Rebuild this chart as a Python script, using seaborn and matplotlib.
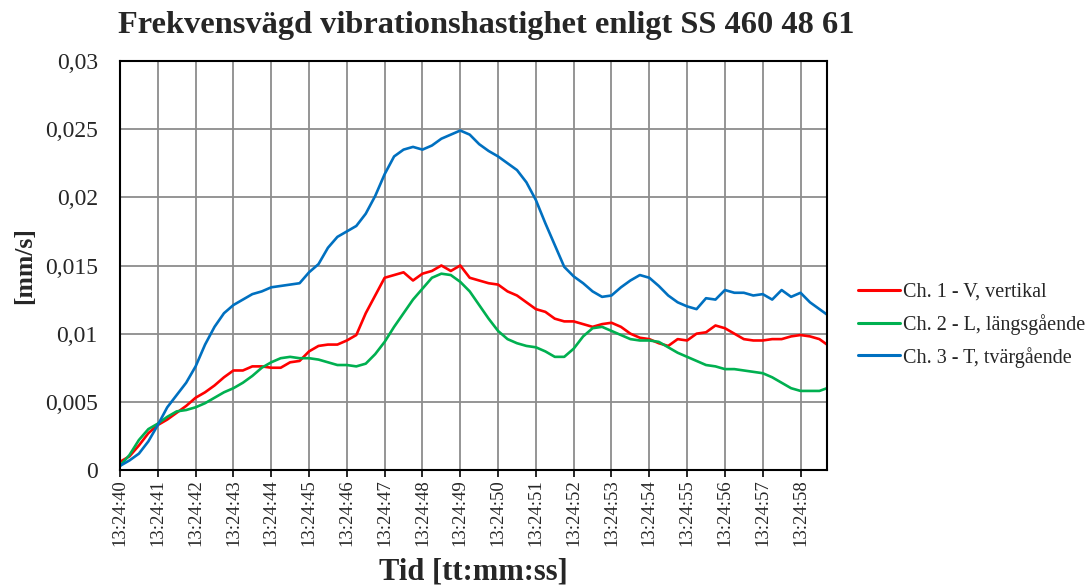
import matplotlib
matplotlib.use("Agg")
import matplotlib.pyplot as plt
import pandas as pd
import seaborn as sns

# time offset in seconds from 13:24:40
seconds = [0, 0.25, 0.5, 0.75, 1, 1.25, 1.5, 1.75, 2, 2.25, 2.5, 2.75,
           3, 3.25, 3.5, 3.75, 4, 4.25, 4.5, 4.75, 5, 5.25, 5.5, 5.75,
           6, 6.25, 6.5, 6.75, 7, 7.25, 7.5, 7.75, 8, 8.25, 8.5, 8.75,
           9, 9.25, 9.5, 9.75, 10, 10.25, 10.5, 10.75, 11, 11.25, 11.5, 11.75,
           12, 12.25, 12.5, 12.75, 13, 13.25, 13.5, 13.75, 14, 14.25, 14.5, 14.75,
           15, 15.25, 15.5, 15.75, 16, 16.25, 16.5, 16.75, 17, 17.25, 17.5, 17.75,
           18, 18.25, 18.5, 18.7]

ch1_vertikal = [0.0006, 0.0010, 0.0018, 0.0027, 0.0033, 0.0037, 0.0042, 0.0047, 0.0053, 0.0057, 0.0062, 0.0068,
                0.0073, 0.0073, 0.0076, 0.0076, 0.0075, 0.0075, 0.0079, 0.0080, 0.0087, 0.0091, 0.0092, 0.0092,
                0.0095, 0.0099, 0.0115, 0.0128, 0.0141, 0.0143, 0.0145, 0.0139, 0.0144, 0.0146, 0.0150, 0.0146,
                0.0150, 0.0141, 0.0139, 0.0137, 0.0136, 0.0131, 0.0128, 0.0123, 0.0118, 0.0116, 0.0111, 0.0109,
                0.0109, 0.0107, 0.0105, 0.0107, 0.0108, 0.0105, 0.0100, 0.0097, 0.0096, 0.0093, 0.0091, 0.0096,
                0.0095, 0.0100, 0.0101, 0.0106, 0.0104, 0.0100, 0.0096, 0.0095, 0.0095, 0.0096, 0.0096, 0.0098,
                0.0099, 0.0098, 0.0096, 0.0092]

ch2_langsgaende = [0.0003, 0.0011, 0.0022, 0.0030, 0.0034, 0.0039, 0.0043, 0.0044, 0.0046, 0.0049, 0.0053, 0.0057,
                   0.0060, 0.0064, 0.0069, 0.0075, 0.0079, 0.0082, 0.0083, 0.0082, 0.0082, 0.0081, 0.0079, 0.0077,
                   0.0077, 0.0076, 0.0078, 0.0085, 0.0094, 0.0105, 0.0115, 0.0125, 0.0133, 0.0141, 0.0144, 0.0143,
                   0.0138, 0.0131, 0.0121, 0.0111, 0.0102, 0.0096, 0.0093, 0.0091, 0.0090, 0.0087, 0.0083, 0.0083,
                   0.0089, 0.0098, 0.0104, 0.0105, 0.0102, 0.0099, 0.0096, 0.0095, 0.0095, 0.0094, 0.0090, 0.0086,
                   0.0083, 0.0080, 0.0077, 0.0076, 0.0074, 0.0074, 0.0073, 0.0072, 0.0071, 0.0068, 0.0064, 0.0060,
                   0.0058, 0.0058, 0.0058, 0.0060]

ch3_tvargaende = [0.0003, 0.0007, 0.0012, 0.0021, 0.0033, 0.0046, 0.0055, 0.0064, 0.0076, 0.0092, 0.0105, 0.0115,
                  0.0121, 0.0125, 0.0129, 0.0131, 0.0134, 0.0135, 0.0136, 0.0137, 0.0145, 0.0151, 0.0163, 0.0171,
                  0.0175, 0.0179, 0.0188, 0.0201, 0.0217, 0.0230, 0.0235, 0.0237, 0.0235, 0.0238, 0.0243, 0.0246,
                  0.0249, 0.0246, 0.0239, 0.0234, 0.0230, 0.0225, 0.0220, 0.0211, 0.0198, 0.0181, 0.0165, 0.0149,
                  0.0142, 0.0137, 0.0131, 0.0127, 0.0128, 0.0134, 0.0139, 0.0143, 0.0141, 0.0135, 0.0128, 0.0123,
                  0.0120, 0.0118, 0.0126, 0.0125, 0.0132, 0.0130, 0.0130, 0.0128, 0.0129, 0.0125, 0.0132, 0.0127,
                  0.0130, 0.0123, 0.0118, 0.0114]

series_names = ["Ch. 1 - V, vertikal", "Ch. 2 - L, längsgående", "Ch. 3 - T, tvärgående"]
series_colors = ["#FF0000", "#00B050", "#0070C0"]

x_tick_pos = list(range(19))
x_tick_labels = ["13:24:40", "13:24:41", "13:24:42", "13:24:43", "13:24:44", "13:24:45", "13:24:46",
                 "13:24:47", "13:24:48", "13:24:49", "13:24:50", "13:24:51", "13:24:52", "13:24:53",
                 "13:24:54", "13:24:55", "13:24:56", "13:24:57", "13:24:58"]
y_tick_pos = [0, 0.005, 0.01, 0.015, 0.02, 0.025, 0.03]
y_tick_labels = ["0", "0,005", "0,01", "0,015", "0,02", "0,025", "0,03"]

df = pd.concat([
    pd.DataFrame({"t": seconds, "v": vals, "kanal": name})
    for name, vals in zip(series_names, [ch1_vertikal, ch2_langsgaende, ch3_tvargaende])
])

sns.set_theme(style="white")
plt.rcParams["font.family"] = ["Liberation Serif", "DejaVu Serif"]

fig = plt.figure(figsize=(10.87, 5.88), dpi=100)
ax = fig.add_axes([120 / 1087, 1 - 470 / 588, 707 / 1087, 409 / 588])

sns.lineplot(data=df, x="t", y="v", hue="kanal", palette=series_colors, hue_order=series_names,
             linewidth=1.9, ax=ax, errorbar=None, legend=False)

ax.set_xlim(0, 18.7)
ax.set_ylim(0, 0.03)
ax.set_xticks(x_tick_pos)
ax.set_xticklabels(x_tick_labels, rotation=90, fontsize=13.5)
ax.set_yticks(y_tick_pos)
ax.set_yticklabels(y_tick_labels, fontsize=17)
ax.tick_params(axis="x", length=5, width=1.2, color="black", pad=2, bottom=True)
ax.tick_params(axis="y", length=0, pad=16)
ax.grid(True, color="#8c8c8c", linewidth=1.3)
ax.set_axisbelow(True)
for sp in ax.spines.values():
    sp.set_color("black")
    sp.set_linewidth(1.5)
ax.set_xlabel("")
ax.set_ylabel("")

fig.text(486 / 1087, 1 - 25 / 588, "Frekvensvägd vibrationshastighet enligt SS 460 48 61",
         ha="center", va="center", fontsize=23.3, fontweight="bold")
fig.text(473 / 1087, 1 - 572 / 588, "Tid [tt:mm:ss]", ha="center", va="center",
         fontsize=22, fontweight="bold")
fig.text(25 / 1087, 1 - 266 / 588, "[mm/s]", ha="center", va="center", rotation=90,
         fontsize=18.5, fontweight="bold")

handles = [plt.Line2D([], [], color=c, linewidth=2.2) for c in series_colors]
fig.legend(handles, series_names, loc="center left", bbox_to_anchor=(858 / 1087, 1 - 325 / 588),
           frameon=False, fontsize=14.5, handlelength=2.1, handletextpad=0.15,
           labelspacing=0.6, borderpad=0, borderaxespad=0)

fig.savefig("out.png", dpi=100)
